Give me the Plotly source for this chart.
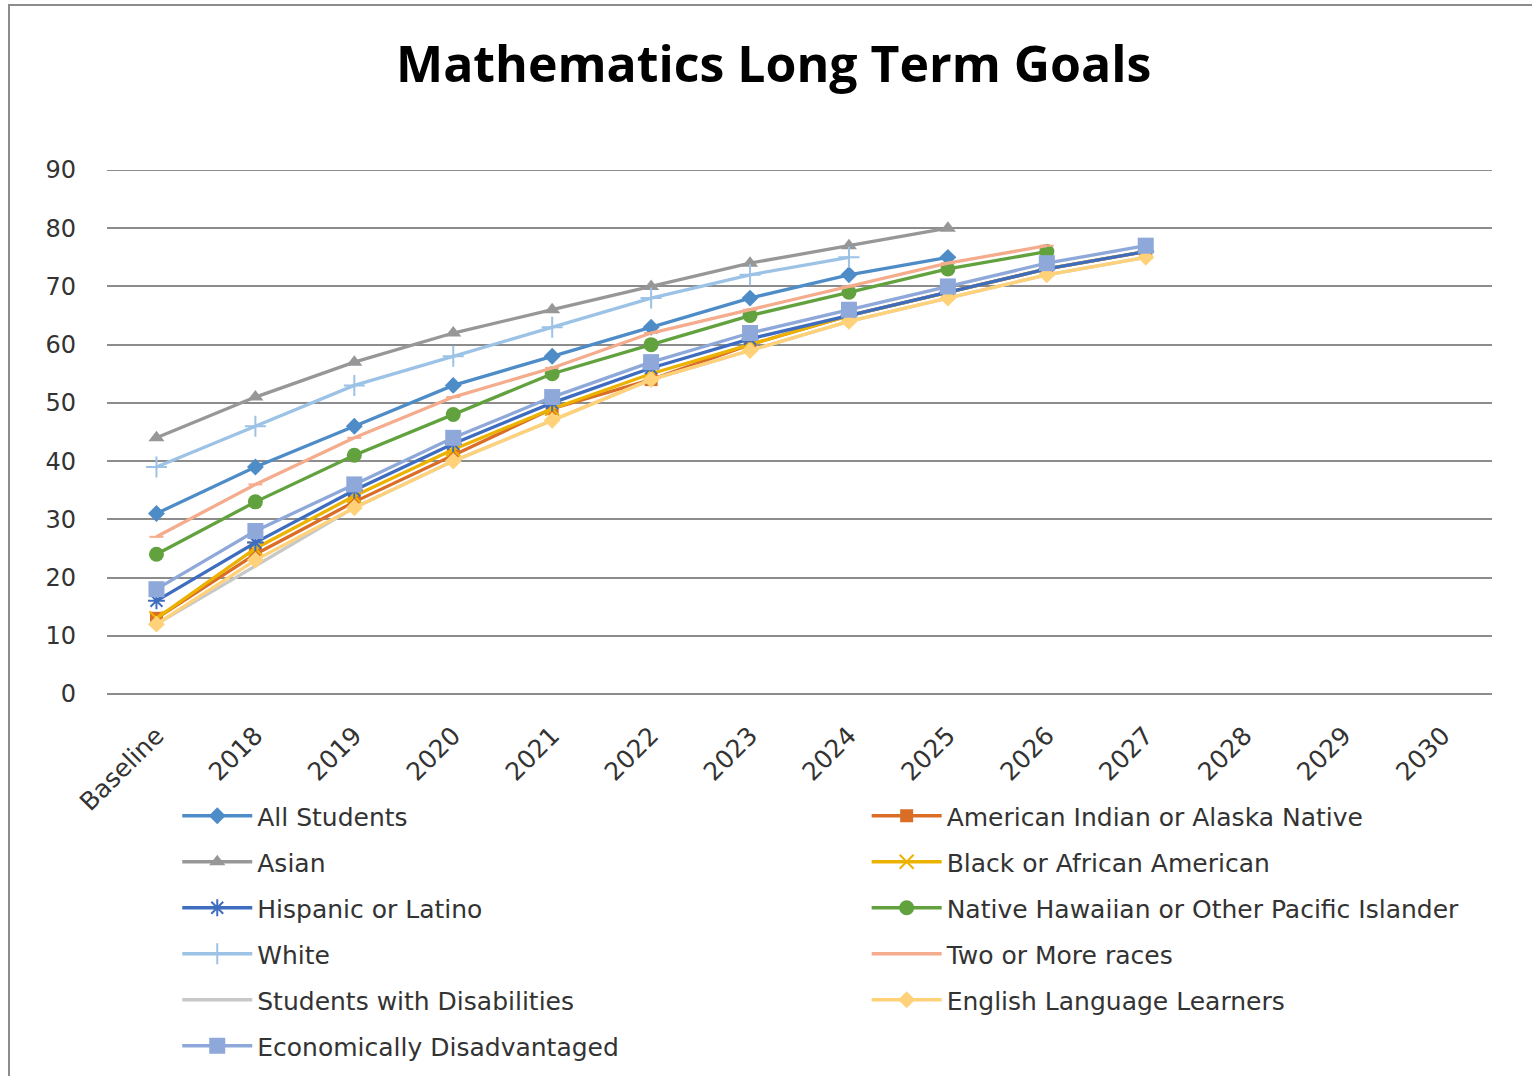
import plotly.graph_objects as go

categories = ["Baseline", "2018", "2019", "2020", "2021", "2022", "2023",
              "2024", "2025", "2026", "2027", "2028", "2029", "2030"]

all_students = [31, 39, 46, 53, 58, 63, 68, 72, 75]
american_indian = [13, 24, 33, 41, 49, 54, 60, 65, 69, 73, 76]
asian = [44, 51, 57, 62, 66, 70, 74, 77, 80]
black = [13, 25, 34, 42, 49, 55, 60, 65, 69, 73, 76]
hispanic = [16, 26, 35, 43, 50, 56, 61, 65, 69, 73, 76]
native_hawaiian = [24, 33, 41, 48, 55, 60, 65, 69, 73, 76]
white = [39, 46, 53, 58, 63, 68, 72, 75]
two_or_more = [27, 36, 44, 51, 56, 62, 66, 70, 74, 77]
swd = [12, 22, 32, 40, 47, 54, 59, 64, 68, 72, 75]
ell = [12, 23, 32, 40, 47, 54, 59, 64, 68, 72, 75]
econ = [18, 28, 36, 44, 51, 57, 62, 66, 70, 74, 77]

y_ticks = [0, 10, 20, 30, 40, 50, 60, 70, 80, 90]

series = [
    ("All Students", all_students, "#4E8CC8", "diamond", 13, "legend"),
    ("American Indian or Alaska Native", american_indian, "#DA6E27", "square", 13, "legend2"),
    ("Asian", asian, "#979797", "triangle-up", 14, "legend"),
    ("Black or African American", black, "#ECB200", "x-thin-open", 14, "legend2"),
    ("Hispanic or Latino", hispanic, "#3E6DBF", "asterisk-open", 14, "legend"),
    ("Native Hawaiian or Other Pacific Islander", native_hawaiian, "#62A23E", "circle", 15, "legend2"),
    ("White", white, "#9CC2E6", "cross-thin-open", 15, "legend"),
    ("Two or More races", two_or_more, "#F4AC8C", "line-ew-open", 10, "legend2"),
    ("Students with Disabilities", swd, "#C8C8C8", None, 0, "legend"),
    ("English Language Learners", ell, "#FFD27A", "diamond", 13, "legend2"),
    ("Economically Disadvantaged", econ, "#8EA8DA", "square", 16, "legend"),
]

fig = go.Figure()
for name, vals, color, sym, size, leg in series:
    y = list(vals) + [None] * (len(categories) - len(vals))
    if sym is None:
        mode = "lines"
        marker = dict()
    else:
        mode = "lines+markers"
        marker = dict(symbol=sym, size=size, color=color,
                      line=dict(color=color, width=2 if "open" in sym else 0))
    fig.add_trace(go.Scatter(
        x=categories, y=y, name=name, mode=mode,
        line=dict(color=color, width=3.3),
        marker=marker, legend=leg, legendgroup=name,
    ))

FONT = "DejaVu Sans"
TFONT = "Open Sans"

fig.update_layout(
    width=1532, height=1076,
    margin=dict(l=107, r=40, t=170, b=382, autoexpand=False),
    paper_bgcolor="white", plot_bgcolor="white",
    title=dict(text="<b>Mathematics Long Term Goals</b>", x=0.505, xanchor="center",
               y=0.94, yanchor="middle", yref="container",
               font=dict(family=TFONT, size=50, color="#000000")),
    font=dict(family=FONT, color="#333333"),
    xaxis=dict(type="category", categoryorder="array", categoryarray=categories,
               range=[-0.5, 13.5], tickangle=-45, showgrid=False, showline=False,
               zeroline=False, ticks="", ticklabelstandoff=21, automargin=False,
               tickfont=dict(family=FONT, size=25, color="#333333")),
    yaxis=dict(range=[0, 90], tickmode="array", tickvals=y_ticks,
               showgrid=True, gridcolor="#8C8C8C", gridwidth=2, zeroline=True,
               zerolinecolor="#8C8C8C", zerolinewidth=2, showline=False, ticks="",
               ticklabelstandoff=30, automargin=False,
               tickfont=dict(family=FONT, size=24, color="#333333")),
    legend=dict(x=0.1157, y=0.263, xref="container", yref="container",
                xanchor="left", yanchor="top", orientation="v",
                itemwidth=70, tracegroupgap=10.5, bgcolor="rgba(0,0,0,0)",
                font=dict(family=FONT, size=25, color="#333333")),
    legend2=dict(x=0.5657, y=0.263, xref="container", yref="container",
                 xanchor="left", yanchor="top", orientation="v",
                 itemwidth=70, tracegroupgap=10.5, bgcolor="rgba(0,0,0,0)",
                 font=dict(family=FONT, size=25, color="#333333")),
    showlegend=True,
)

# top gridline (plotly omits the grid line lying on the plot edge)
fig.add_shape(type="line", xref="paper", yref="y", x0=0, x1=1,
              y0=y_ticks[-1], y1=y_ticks[-1], layer="below",
              line=dict(color="#8C8C8C", width=2))

fig.add_shape(type="rect", xref="paper", yref="paper",
              x0=(9 - 107) / 1385, x1=(1560 - 107) / 1385,
              y0=(694 - 1100) / 524, y1=(694 - 5) / 524,
              line=dict(color="#8C8C8C", width=2), fillcolor="rgba(0,0,0,0)")

fig.write_html("out.html")
